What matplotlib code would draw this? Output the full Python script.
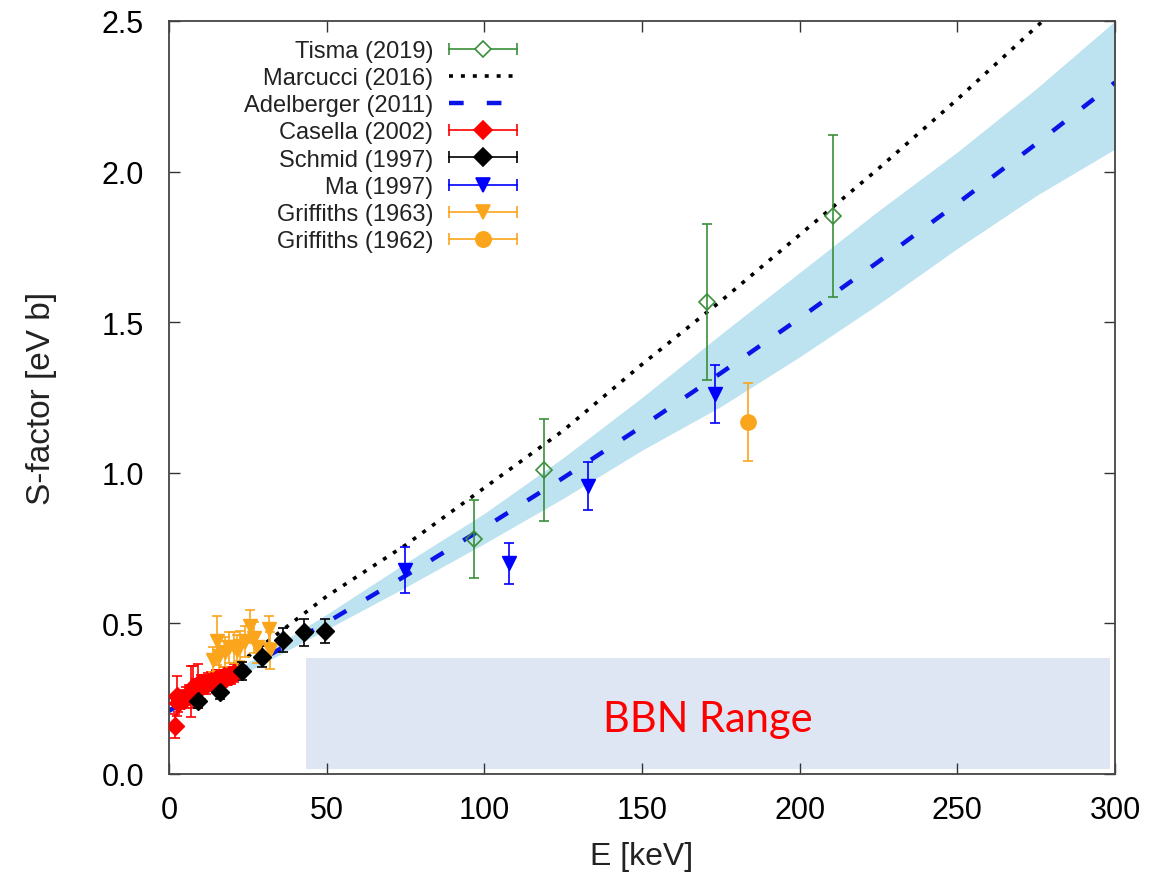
import numpy as np
import matplotlib
matplotlib.use("Agg")
from matplotlib import pyplot as plt
from matplotlib.lines import Line2D
from matplotlib.patches import Rectangle
from matplotlib.legend_handler import HandlerLine2D, HandlerTuple

plt.rcParams["font.family"] = ["Liberation Sans", "DejaVu Sans"]

# --- theory curves ---
e_grid = [0, 25, 50, 75, 100, 125, 150, 175, 200, 225, 250, 275, 300]
adel_s = [0.21, 0.354, 0.503, 0.658, 0.818, 0.983, 1.154, 1.331, 1.513, 1.701, 1.894, 2.092, 2.296]
adel_lo = [0.20, 0.34, 0.48, 0.62, 0.765, 0.915, 1.075, 1.22, 1.385, 1.56, 1.745, 1.92, 2.075]
adel_hi = [0.22, 0.37, 0.53, 0.70, 0.865, 1.05, 1.25, 1.46, 1.665, 1.87, 2.065, 2.275, 2.50]
marc_s = [0.21, 0.39, 0.59, 0.76, 0.95, 1.14, 1.36, 1.57, 1.79, 2.01, 2.24, 2.48, 2.72]

# --- data sets ---
tisma_e = [96.7, 119.0, 170.5, 210.6]
tisma_s = [0.78, 1.01, 1.567, 1.853]
tisma_err = [0.13, 0.17, 0.26, 0.27]

ma_e = [74.7, 107.8, 132.9, 173.0]
ma_s = [0.677, 0.70, 0.956, 1.262]
ma_err = [0.075, 0.068, 0.08, 0.097]

grif62_e = [183.5]
grif62_s = [1.169]
grif62_err = [0.13]

schmid_e = [9.3, 16.2, 23.1, 29.5, 36.2, 42.9, 49.6]
schmid_s = [0.243, 0.273, 0.343, 0.39, 0.445, 0.47, 0.475]
schmid_err = [0.025, 0.025, 0.03, 0.035, 0.04, 0.045, 0.04]

casella_e = [1.9, 2.6, 3.0, 3.6, 4.2, 4.8, 5.5, 6.3, 7.0, 7.7, 8.5, 9.3, 10.1,
             10.9, 11.7, 12.5, 13.3, 14.1, 14.9, 15.7, 16.5, 17.3, 18.1, 18.9,
             19.7, 20.5]
casella_s = [0.16, 0.26, 0.235, 0.245, 0.25, 0.245, 0.26, 0.265, 0.275, 0.29,
             0.285, 0.30, 0.29, 0.30, 0.295, 0.305, 0.31, 0.30, 0.315, 0.32,
             0.31, 0.325, 0.32, 0.33, 0.325, 0.335]
casella_err = [0.04, 0.066, 0.03, 0.03, 0.03, 0.025, 0.03, 0.03, 0.085, 0.07,
               0.03, 0.065, 0.04, 0.03, 0.03, 0.03, 0.03, 0.025, 0.03, 0.025,
               0.025, 0.03, 0.025, 0.025, 0.025, 0.03]

grif63_e = [14.1, 15.2, 15.7, 17.8, 19.0, 20.5, 21.5, 22.6, 24.0, 25.8, 26.8,
            28.0, 31.6, 32.1]
grif63_s = [0.38, 0.443, 0.393, 0.405, 0.42, 0.42, 0.41, 0.426, 0.44, 0.49,
            0.453, 0.42, 0.48, 0.41]
grif63_err = [0.04, 0.08, 0.05, 0.05, 0.05, 0.05, 0.05, 0.05, 0.05, 0.055,
              0.05, 0.05, 0.045, 0.06]

bbn_e = [43.6, 298.3]
bbn_s = [0.017, 0.385]

green = "#3a8f3a"
orange = "#fba51c"
band_col = "#bde2f0"

fig = plt.figure(figsize=(11.6, 8.87), dpi=100)
ax = fig.add_axes([0.1457, 0.1263, 0.8155, 0.8489])

# BBN region box
ax.add_patch(Rectangle((bbn_e[0], bbn_s[0]), bbn_e[1] - bbn_e[0], bbn_s[1] - bbn_s[0],
                       facecolor="#dfe6f3", edgecolor="none", zorder=0.5))
ax.text((bbn_e[0] + bbn_e[1]) / 2, (bbn_s[0] + bbn_s[1]) / 2 - 0.02, "BBN Range",
        color="red", fontsize=30, family=["Lato", "DejaVu Sans"],
        ha="center", va="center", zorder=1)

# theory
ax.fill_between(e_grid, adel_lo, adel_hi, color=band_col, lw=0, zorder=1)
l_marc, = ax.plot(e_grid, marc_s, color="black", lw=2.6, dashes=(1.1, 2.2), zorder=2)
l_adel, = ax.plot(e_grid, adel_s, color="#0a14e6", lw=3.2, dashes=(3.3, 5.2), zorder=2)

eb = dict(capsize=3.5, elinewidth=1.2, capthick=1.2, ls="none", zorder=3)
ax.errorbar(tisma_e, tisma_s, yerr=tisma_err, color=green, marker="D", ms=8.5,
            mfc="none", mec=green, mew=1.2, **eb)
ax.errorbar(casella_e, casella_s, yerr=casella_err, color="red", marker="D", ms=9, **eb)
ax.errorbar(grif63_e, grif63_s, yerr=grif63_err, color=orange, marker="v", ms=10, **eb)
ax.errorbar(schmid_e, schmid_s, yerr=schmid_err, color="black", marker="D", ms=9, **eb)
ax.errorbar(ma_e, ma_s, yerr=ma_err, color="blue", marker="v", ms=10, **eb)
ax.errorbar(grif62_e, grif62_s, yerr=grif62_err, color=orange, marker="o", ms=11, **eb)

ax.set_xlim(0, 300)
ax.set_ylim(0, 2.5)
ax.set_xticks([0, 50, 100, 150, 200, 250, 300])
ax.set_yticks([0, 0.5, 1.0, 1.5, 2.0, 2.5])
ax.set_yticklabels(["0.0", "0.5", "1.0", "1.5", "2.0", "2.5"])
ax.tick_params(direction="in", top=True, right=True, length=8, width=1,
               labelsize=22, color="#333333")
ax.tick_params(axis="x", pad=15)
ax.tick_params(axis="y", pad=18)
for sp in ax.spines.values():
    sp.set_linewidth(1.3)
    sp.set_color("#444444")
ax.set_xlabel("E [keV]", fontsize=23, labelpad=12, color="#222222")
ax.set_ylabel("S-factor [eV b]", fontsize=24, labelpad=32, color="#222222")


# legend: horizontal error bar samples like gnuplot
def eb_handle(color, marker, ms, mfc=None):
    caps = Line2D([], [], color=color, lw=1.2, marker="|", ms=9, mew=1.2)
    mark = Line2D([], [], ls="none", color=color, marker=marker, ms=ms,
                  mfc=mfc if mfc else color, mec=color, mew=1.2)
    return (caps, mark)


entries = [
    (eb_handle(green, "D", 8.5, mfc="white"), "Tisma (2019)"),
    (l_marc, "Marcucci (2016)"),
    (l_adel, "Adelberger (2011)"),
    (eb_handle("red", "D", 9), "Casella (2002)"),
    (eb_handle("black", "D", 9), "Schmid (1997)"),
    (eb_handle("blue", "v", 10), "Ma (1997)"),
    (eb_handle(orange, "v", 10), "Griffiths (1963)"),
    (eb_handle(orange, "o", 11), "Griffiths (1962)"),
]
hmap = {HandlerTuple: HandlerTuple(ndivide=1)}
for h, _ in entries:
    if isinstance(h, tuple):
        hmap[h[0]] = HandlerLine2D(numpoints=2, marker_pad=0)
        hmap[h[1]] = HandlerLine2D(numpoints=1)
leg = ax.legend([h for h, _ in entries], [t for _, t in entries], handler_map=hmap,
                loc="upper right", bbox_to_anchor=(0.368, 0.975), frameon=False,
                markerfirst=False, fontsize=17, labelspacing=0.22, handlelength=2.9,
                handletextpad=0.65, borderpad=0, borderaxespad=0)
for t in leg.get_texts():
    t.set_ha("right")
    t.set_color("#222222")

fig.savefig("out.png", dpi=100)
